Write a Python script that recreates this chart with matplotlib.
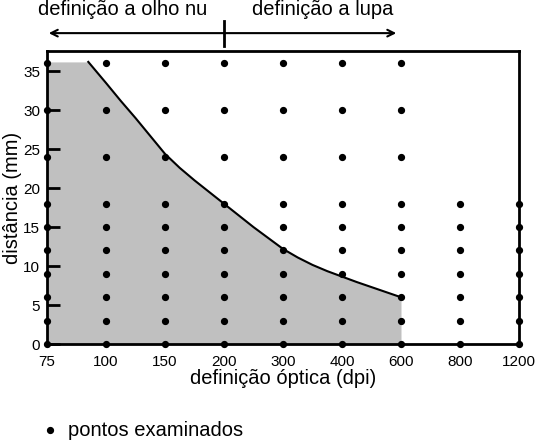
import matplotlib
matplotlib.use('Agg')
import matplotlib.pyplot as plt
import matplotlib.transforms as mtransforms

plt.rcParams['font.family'] = ['Liberation Sans', 'DejaVu Sans']

# eixo x categórico (espaçamento igual)
dpi_labels = ['75', '100', '150', '200', '300', '400', '600', '800', '1200']
dist_full = [0, 3, 6, 9, 12, 15, 18, 24, 30, 36]
dist_short = [0, 3, 6, 9, 12, 15, 18]
n_full = 7  # colunas 75..600 com todos os pontos

# curva limite (posição no eixo, distância)
curve_x = [0.70, 1.0, 1.25, 1.5, 1.75, 2.0, 2.25, 2.5, 2.75, 3.0, 3.25, 3.5,
           3.75, 4.0, 4.25, 4.5, 4.75, 5.0, 5.25, 5.5, 5.75, 6.0]
curve_y = [36.2, 33.5, 31.2, 29.0, 26.7, 24.4, 22.6, 21.0, 19.5, 18.0, 16.5, 15.0,
           13.6, 12.2, 11.1, 10.15, 9.35, 8.65, 7.95, 7.3, 6.65, 6.0]
fill_top = 36.2

fig = plt.figure(figsize=(5.35, 4.41), dpi=100)
ax = fig.add_axes([47 / 535, 1 - 344 / 441, 472 / 535, 293 / 441])

# área cinzenta
fx = [0] + curve_x + [curve_x[-1]]
fy = [fill_top] + curve_y + [0]
ax.fill_between(fx, fy, 0, color='#c0c0c0', lw=0, zorder=1)
ax.plot(curve_x, curve_y, color='black', lw=1.5, zorder=2)

# pontos examinados
for i, lab in enumerate(dpi_labels):
    ys = dist_full if i < n_full else dist_short
    ax.plot([i] * len(ys), ys, 'o', color='black', ms=4.2, clip_on=False, zorder=3)

ax.set_xlim(0, 8)
ax.set_ylim(0, 37.6)
ax.set_xticks(range(len(dpi_labels)))
ax.set_xticklabels(dpi_labels)
ax.set_yticks(range(0, 36, 5))
ax.tick_params(axis='x', length=0, pad=8, labelsize=11)
ax.tick_params(axis='y', direction='in', length=9, width=2, pad=5, labelsize=11)
for s in ax.spines.values():
    s.set_linewidth(2)

ax.set_xlabel('definição óptica (dpi)', fontsize=14.5, labelpad=0)
ax.set_ylabel('distância (mm)', fontsize=14.5, labelpad=1)

# seta superior
trans = mtransforms.blended_transform_factory(ax.transData, ax.transAxes)
ax.annotate('', xy=(0.03, 1.061), xytext=(5.92, 1.061), xycoords=trans, textcoords=trans,
            arrowprops=dict(arrowstyle='<->', lw=1.5, color='black',
                            shrinkA=0, shrinkB=0, mutation_scale=12),
            annotation_clip=False)
ax.plot([3, 3], [1.017, 1.102], color='black', lw=2, transform=trans, clip_on=False)
ax.text(1.28, 1.123, 'definição a olho nu', transform=trans, ha='center', va='baseline', fontsize=14.5)
ax.text(4.68, 1.123, 'definição a lupa', transform=trans, ha='center', va='baseline', fontsize=14.5)

# legenda
fig.lines.append(plt.Line2D([50 / 535], [1 - 430 / 441], marker='o', color='black', ms=4.2,
                            transform=fig.transFigure))
fig.text(68 / 535, 1 - 436 / 441, 'pontos examinados', ha='left', va='baseline', fontsize=14.5)

fig.savefig('out.png', dpi=100)
